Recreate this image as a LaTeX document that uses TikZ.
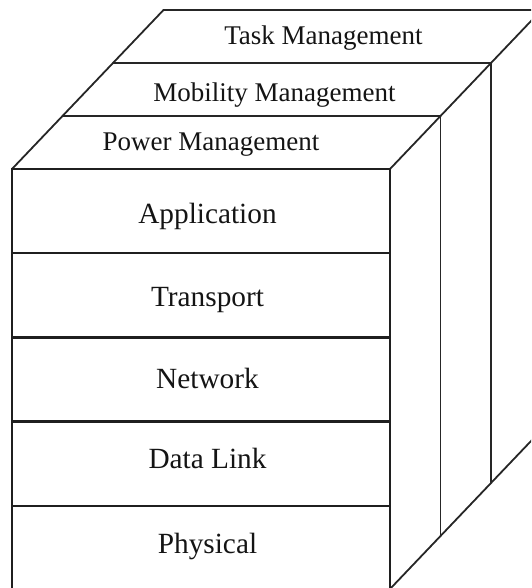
\documentclass[tikz,border=0pt]{standalone}
\usepackage{fontspec}
\setmainfont{Liberation Serif}
\begin{document}
\begin{tikzpicture}[x=1pt,y=-1pt,
  frontline/.style={draw=black!88, line width=2.4pt},
  backline/.style={draw=black!85, line width=1.8pt},
  layerlabel/.style={anchor=base, inner sep=0pt, font=\fontsize{29.3}{34}\selectfont, text=black!92},
  toplabel/.style={anchor=base, inner sep=0pt, font=\fontsize{27}{32}\selectfont, text=black!92}]
\useasboundingbox (0,0) rectangle (531,588);
\clip (0,0) rectangle (531,588);
% corner coordinates
\coordinate (f0l) at (12,169);   \coordinate (f0r) at (390,169);
\coordinate (f1l) at (62.5,116); \coordinate (f1r) at (440.5,116);
\coordinate (f2l) at (113,63);   \coordinate (f2r) at (491,63);
\coordinate (f3l) at (163.5,10); \coordinate (f3r) at (541.5,10);
\coordinate (b0) at (390,589);
\coordinate (b1) at (440.5,536);
\coordinate (b2) at (491,483);
\coordinate (b3) at (541.5,430);
\coordinate (bl) at (12,589);
% back management bands
\draw[backline] (f0l) -- (f3l) -- (f3r);
\draw[backline] (f1l) -- (f1r);
\draw[backline] (f2l) -- (f2r);
\draw[backline] (f0r) -- (f3r);
\draw[backline] (f1r) -- (b1);
\draw[backline] (f2r) -- (b2);
\draw[backline] (b0) -- (b3);
% front stack
\draw[frontline] (f0l) rectangle (b0);
\foreach \y in {253.2,337.4,421.6,505.8}
  \draw[frontline] (12,\y) -- (390,\y);
% labels
\node[toplabel] (task) at (323.5,45) {Task Management};
\node[toplabel] (mob) at (274.5,101.5) {Mobility Management};
\node[toplabel] (pow) at (211,151) {Power Management};
\node[layerlabel] (app) at (207.5,223) {Application};
\node[layerlabel] (tra) at (207.5,306) {Transport};
\node[layerlabel] (net) at (207.5,388) {Network};
\node[layerlabel] (dl) at (207.5,468) {Data Link};
\node[layerlabel] (phy) at (207.5,553) {Physical};
\end{tikzpicture}
\end{document}
